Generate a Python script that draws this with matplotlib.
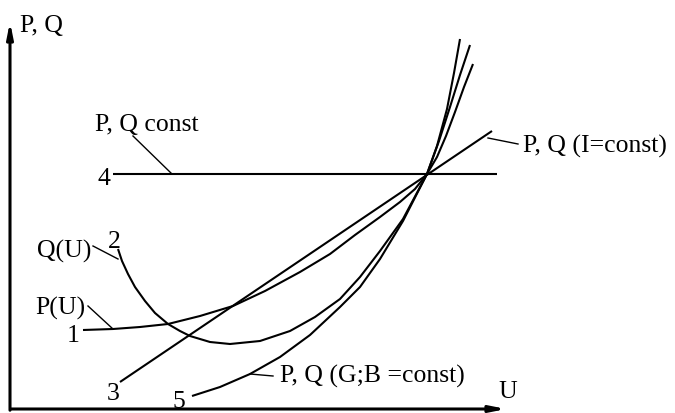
import matplotlib
matplotlib.use("Agg")
import matplotlib.pyplot as plt

# curve samples (U, P/Q in arbitrary units)
u_p = [73, 103, 130, 158, 190, 223, 255, 290, 320, 345, 370, 390, 405, 417, 427, 436, 445, 454, 463]
p_u = [79, 80, 82, 85, 93, 103, 118, 137, 155, 174, 192, 207, 220, 235, 252, 273, 297, 322, 345]

u_q = [108, 112, 118, 125, 135, 145, 158, 170, 180, 200, 220, 250, 280, 305, 330, 350, 370, 393, 417, 429, 440, 450, 460]
q_u = [160, 148, 135, 122, 108, 96, 85, 78, 73, 67, 65, 68, 78, 92, 110, 132, 158, 190, 235, 268, 302, 334, 364]

u_i = [110, 482]
pq_i = [27, 278]

u_c = [103, 487]
pq_c = [235, 235]

u_gb = [182, 210, 240, 270, 300, 330, 350, 370, 393, 417, 427, 437, 444, 450]
pq_gb = [13, 22, 35, 52, 74, 102, 122, 150, 188, 235, 263, 300, 336, 370]

plt.rcParams['font.family'] = ['Liberation Serif', 'DejaVu Serif']
FS = 18.5
LW = 1.5

fig = plt.figure(figsize=(6.75, 4.14), dpi=100)
ax = fig.add_axes([0, 0, 1, 1])
ax.set_xlim(-10, 665)
ax.set_ylim(-4, 410)
ax.axis('off')

# axes with arrows
ax.annotate('', xy=(0, 390), xytext=(0, -4),
            arrowprops=dict(arrowstyle='-|>,head_length=0.9,head_width=0.18', lw=2.2, color='black'))
ax.annotate('', xy=(499, 0), xytext=(-2, 0),
            arrowprops=dict(arrowstyle='-|>,head_length=0.9,head_width=0.18', lw=2.2, color='black'))

for xs, ys in [(u_p, p_u), (u_q, q_u), (u_i, pq_i), (u_c, pq_c), (u_gb, pq_gb)]:
    ax.plot(xs, ys, color='black', lw=LW, solid_capstyle='butt', solid_joinstyle='round')

# leader lines
leaders = [((123, 273), (162, 235)),
           ((478, 271), (508, 265)),
           ((83, 163), (108, 150)),
           ((78, 103), (103, 80)),
           ((263, 33), (240, 35))]
for (x0, y0), (x1, y1) in leaders:
    ax.plot([x0, x1], [y0, y1], color='black', lw=1.0)

labels = [("P, Q", 10, 378), ("P, Q const", 85, 279), ("4", 87, 225),
          ("P, Q (I=const)", 513, 257), ("Q(U)", 27, 152), ("2", 98, 162),
          ("P(U)", 25, 95), ("1", 57, 68), ("3", 97, 10), ("5", 163, 2),
          ("P, Q (G;B =const)", 270, 27), ("U", 488, 12)]
for s, x, y in labels:
    ax.text(x, y, s, fontsize=FS, ha='left', va='baseline')

fig.savefig('out.png', dpi=100)
